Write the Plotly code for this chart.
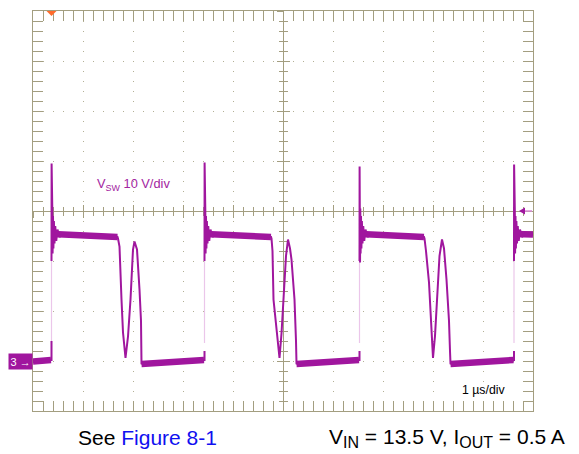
import plotly.graph_objects as go

# ---------------- data (time in µs, voltage in V relative to ground marker) -------------
rise_times = [0.37, 3.43, 6.53, 9.62]          # switch-node rising edges
edge_levels = [3.6, 20.0]                       # faint fast-edge segment (from, to)

low0_t = [0.00, 0.20, 0.36, 0.37, 0.37]
low0_v = [-0.2, 0.1, 0.2, 0.2, 4.0]

cyc1_t = [0.37, 0.372, 0.376, 0.381, 0.386, 0.392, 0.40, 0.408, 0.418, 0.43, 0.445, 0.465,
          0.49, 0.53, 0.60, 0.80, 1.20, 1.69, 1.70, 1.73, 1.77, 1.80, 1.85, 1.90, 1.95, 2.00,
          2.03, 2.08, 2.13, 2.16, 2.17, 2.20, 2.80, 3.42, 3.43, 3.43]
cyc1_v = [20.0, 39.5, 30.0, 20.5, 30.5, 21.5, 29.0, 22.5, 28.0, 23.5, 27.0, 24.0,
          26.3, 24.8, 25.6, 25.3, 25.1, 24.8, 24.5, 22.9, 12.3, 5.7, 0.6, 4.9, 12.3, 22.3,
          23.9, 22.3, 14.3, 8.0, -0.5, -0.6, -0.2, 0.2, 0.2, 2.0]

cyc2_t = [3.43, 3.432, 3.436, 3.441, 3.446, 3.452, 3.46, 3.468, 3.478, 3.49, 3.505, 3.525,
          3.55, 3.59, 3.66, 3.86, 4.30, 4.76, 4.77, 4.79, 4.81, 4.85, 4.93, 4.97, 5.01, 5.06,
          5.10, 5.14, 5.17, 5.23, 5.26, 5.27, 5.30, 5.90, 6.52, 6.53, 6.53]
cyc2_v = [20.0, 39.7, 30.0, 20.3, 30.5, 21.5, 29.0, 22.5, 28.0, 23.5, 27.0, 24.0,
          26.3, 24.8, 25.6, 25.3, 25.1, 24.8, 24.5, 22.0, 12.3, 8.3, 0.6, 5.5, 12.3, 21.0,
          24.3, 22.5, 20.3, 12.3, 4.0, -0.5, -0.6, -0.2, 0.2, 0.2, 2.0]

cyc3_t = [6.53, 6.532, 6.536, 6.541, 6.546, 6.552, 6.56, 6.568, 6.578, 6.59, 6.605, 6.625,
          6.65, 6.69, 6.76, 6.96, 7.40, 7.82, 7.83, 7.86, 7.92, 7.96, 8.00, 8.04, 8.08, 8.13,
          8.18, 8.22, 8.27, 8.32, 8.34, 8.35, 8.38, 9.00, 9.61, 9.62, 9.62]
cyc3_v = [20.0, 38.9, 30.0, 19.7, 30.5, 21.5, 29.0, 22.5, 28.0, 23.5, 27.0, 24.0,
          26.3, 24.8, 25.6, 25.3, 25.1, 24.8, 24.5, 22.0, 15.7, 7.0, 0.6, 5.0, 13.0, 21.0,
          24.3, 22.5, 16.3, 8.0, 2.0, -0.5, -0.6, -0.2, 0.2, 0.2, 2.0]

cyc4_t = [9.62, 9.622, 9.626, 9.631, 9.636, 9.642, 9.65, 9.658, 9.668, 9.68, 9.695, 9.715,
          9.74, 9.78, 9.85, 10.0]
cyc4_v = [20.0, 39.3, 32.3, 20.6, 30.5, 21.5, 29.0, 22.5, 28.0, 23.5, 27.0, 24.0,
          26.3, 24.8, 25.6, 25.3]

# noise bands (plateaus and low levels)
band_t = [[0.40, 1.69], [3.46, 4.76], [6.56, 7.82], [9.65, 10.0],
          [0.00, 0.36], [2.17, 3.42], [5.27, 6.52], [8.35, 9.61]]
band_v = [[25.4, 24.8], [25.4, 24.8], [25.4, 24.8], [25.4, 25.3],
          [-0.1, 0.2], [-0.6, 0.2], [-0.6, 0.2], [-0.6, 0.2]]

trigger_time = 0.37
trigger_level = 30.0
ground_level = 0.0

x_range = [0, 10]      # 1 µs/div
y_range = [-10, 70]    # 10 V/div

# ---------------- styles -------------
PURPLE = "#A0169E"
TEXT_PURPLE = "#A3259F"
FRAME = "#A39E80"
GRID = "#B3AF95"
FONT = "Liberation Sans, Arial, sans-serif"

fig = go.Figure()

# faint rising edges
ex, ey = [], []
for t in rise_times:
    ex += [t, t, None]
    ey += [edge_levels[0], edge_levels[1], None]
fig.add_trace(go.Scatter(x=ex, y=ey, mode="lines",
                         line=dict(color="#EBC6EA", width=1.2), hoverinfo="skip"))

# thick noise bands
bx, by = [], []
for ts, vs in zip(band_t, band_v):
    bx += ts + [None]
    by += vs + [None]
fig.add_trace(go.Scatter(x=bx, y=by, mode="lines",
                         line=dict(color=PURPLE, width=6.5), hoverinfo="skip"))

# detailed waveform
mx, my = [], []
for ts, vs in [(low0_t, low0_v), (cyc1_t, cyc1_v), (cyc2_t, cyc2_v),
               (cyc3_t, cyc3_v), (cyc4_t, cyc4_v)]:
    mx += ts + [None]
    my += vs + [None]
fig.add_trace(go.Scatter(x=mx, y=my, mode="lines",
                         line=dict(color=PURPLE, width=2), hoverinfo="skip"))

# ---------------- axes -------------
common = dict(showticklabels=False, zeroline=False, layer="below traces",
              tickcolor=FRAME, linecolor=FRAME, linewidth=1.3, tickwidth=1.2)

fig.update_xaxes(range=x_range, tick0=x_range[0], dtick=1, ticks="inside", ticklen=10,
                 showline=True, mirror="allticks", showgrid=True, gridcolor=GRID,
                 griddash="1px,9px", gridwidth=1.2,
                 minor=dict(ticks="inside", ticklen=4, dtick=0.2, tickcolor=FRAME,
                            tickwidth=1.2, showgrid=False),
                 **common)
fig.update_yaxes(range=y_range, tick0=y_range[0], dtick=10, ticks="inside", ticklen=10,
                 showline=True, mirror="allticks", showgrid=True, gridcolor=GRID,
                 griddash="1px,9px", gridwidth=1.2,
                 minor=dict(ticks="inside", ticklen=4, dtick=2, tickcolor=FRAME,
                            tickwidth=1.2, showgrid=False),
                 **common)

center_x = dict(overlaying="x", anchor="free", position=0.5, range=x_range,
                tick0=x_range[0], dtick=1, ticklen=6, showline=True, showgrid=False, **common)
center_y = dict(overlaying="y", anchor="free", position=0.5, range=y_range,
                tick0=y_range[0], dtick=10, ticklen=6, showline=True, showgrid=False, **common)
fig.update_layout(
    xaxis2=dict(ticks="outside", minor=dict(ticks="outside", ticklen=4, dtick=0.2,
                                            tickcolor=FRAME, tickwidth=1.2), **center_x),
    xaxis3=dict(ticks="inside", minor=dict(ticks="inside", ticklen=4, dtick=0.2,
                                           tickcolor=FRAME, tickwidth=1.2), **center_x),
    yaxis2=dict(ticks="outside", minor=dict(ticks="outside", ticklen=4, dtick=2,
                                            tickcolor=FRAME, tickwidth=1.2), **center_y),
    yaxis3=dict(ticks="inside", minor=dict(ticks="inside", ticklen=4, dtick=2,
                                           tickcolor=FRAME, tickwidth=1.2), **center_y),
)
for xa, ya in [("x2", "y"), ("x3", "y"), ("x", "y2"), ("x", "y3")]:
    fig.add_trace(go.Scatter(x=[None], y=[None], xaxis=xa, yaxis=ya, mode="lines",
                             hoverinfo="skip", showlegend=False))

# ---------------- markers -------------
# trigger position (orange, top)
fig.add_shape(type="path", xref="x", yref="y", xsizemode="pixel", ysizemode="pixel",
              xanchor=trigger_time, yanchor=y_range[1],
              path="M-5,0 L5,0 L0,-5 Z", fillcolor="#FF6B2B", line=dict(width=0))
# trigger level (right)
fig.add_shape(type="line", xref="x", yref="y", xsizemode="pixel", ysizemode="pixel",
              xanchor=x_range[1], yanchor=trigger_level, x0=-9, x1=-1, y0=0, y1=0,
              line=dict(color="#D98AD6", width=1.5))
fig.add_shape(type="path", xref="x", yref="y", xsizemode="pixel", ysizemode="pixel",
              xanchor=x_range[1], yanchor=trigger_level,
              path="M-14,0 L-8,3.5 L-8,-3.5 Z", fillcolor=PURPLE, line=dict(width=0))
# ground marker
fig.add_annotation(text="3 →", xref="paper", x=0, xanchor="right", yref="y", y=ground_level,
                   yanchor="middle", showarrow=False, bgcolor=PURPLE,
                   font=dict(family=FONT, size=11, color="white"), borderpad=1.5)

# ---------------- texts -------------
fig.add_annotation(text="V<sub>SW</sub> 10 V/div", xref="paper", yref="paper",
                   x=0.123, y=0.566, xanchor="left", yanchor="middle", showarrow=False,
                   font=dict(family=FONT, size=12.8, color=TEXT_PURPLE))
fig.add_annotation(text="1 µs/div", xref="paper", yref="paper",
                   x=0.853, y=0.053, xanchor="left", yanchor="middle", showarrow=False,
                   font=dict(family=FONT, size=12.3, color="black"))
fig.add_annotation(text="See <span style='color:#1010F0'>Figure 8-1</span>",
                   xref="paper", yref="paper", x=0.086, y=-0.067, xanchor="left",
                   yanchor="middle", showarrow=False,
                   font=dict(family=FONT, size=21, color="black"))
fig.add_annotation(text="V<sub><span style='font-size:16px'>IN</span></sub> = 13.5 V, "
                        "I<sub><span style='font-size:16px'>OUT</span></sub> = 0.5 A",
                   xref="paper", yref="paper", x=1.068, y=-0.067, xanchor="right",
                   yanchor="middle", showarrow=False,
                   font=dict(family=FONT, size=21, color="black"))

# page body has an 8 px margin: shrink the figure so the plot lands where the scope grid is
fig.update_layout(width=571, height=446, margin=dict(l=25, r=46, t=3, b=43),
                  plot_bgcolor="white", paper_bgcolor="white", showlegend=False)

fig.write_html("out.html")
